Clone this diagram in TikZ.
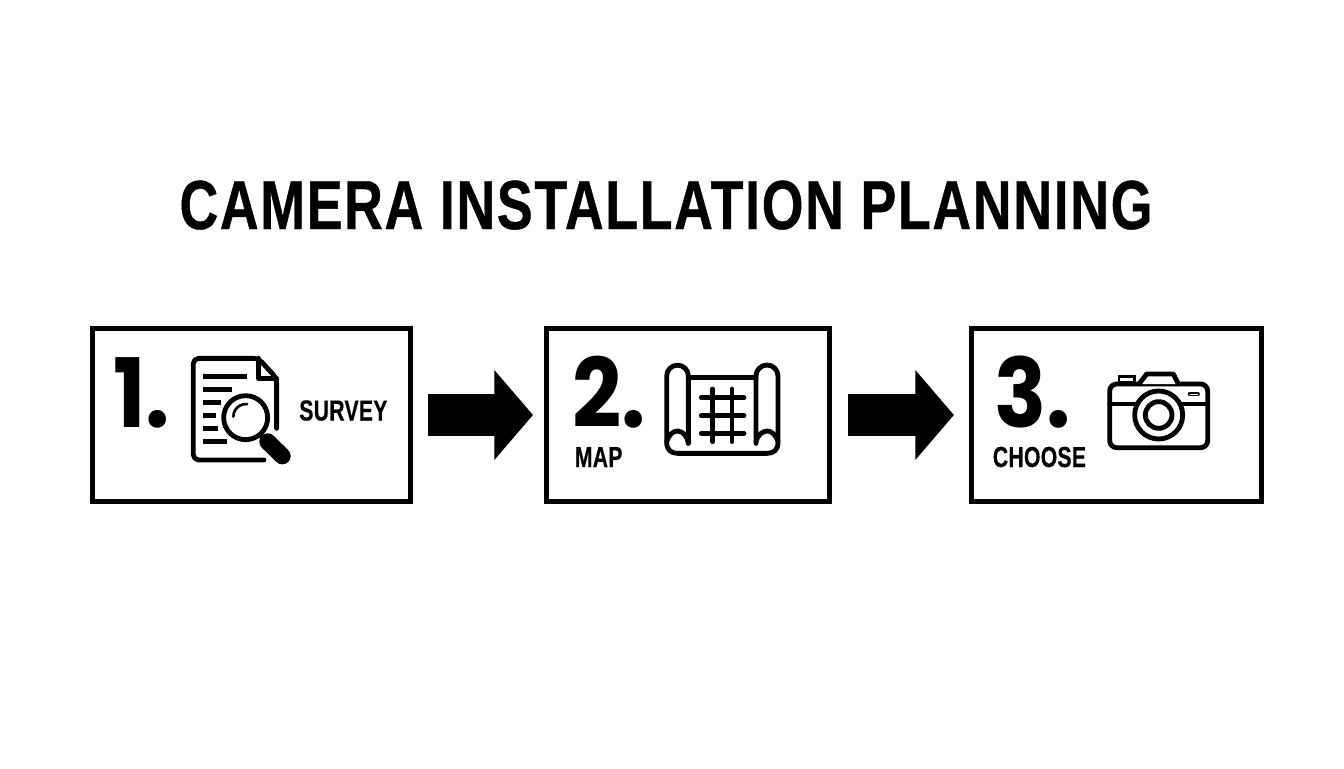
\documentclass[tikz,border=0pt]{standalone}
\usepackage{fontspec}
\usepackage{tikz}
\usetikzlibrary{arrows.meta}
\setmainfont{Liberation Sans}[FakeStretch=0.772,LetterSpace=2.5,BoldFeatures={FakeBold=0.6}]
\newfontfamily\labelfont{Liberation Sans}[FakeStretch=0.73,LetterSpace=1,BoldFeatures={FakeBold=0.4}]
\newfontfamily\numfont{Poppins}[FakeStretch=0.9]
\tikzset{
  framebox/.style={draw,line width=2.85pt,inner sep=0pt,outer sep=0pt,anchor=north west},
  blockarrow/.style={line width=24.4pt,-{Triangle[length=22pt,width=50pt]}},
  steplabel/.style={anchor=base west,inner sep=0pt,font=\fontsize{16.5pt}{18pt}\selectfont\labelfont\bfseries},
  stepnum/.style={anchor=base west,inner sep=0pt,font=\fontsize{54.5pt}{56pt}\selectfont\numfont\bfseries},
  icon/.style={line width=2.75pt,line cap=round,line join=round},
  thin icon/.style={line width=1.5pt,line cap=round},
}
\begin{document}
\begin{tikzpicture}[x=0.02cm,y=-0.02cm]
  \useasboundingbox[fill=white] (0,0) rectangle (1344,768);
  \node[anchor=base,inner sep=0pt,font=\fontsize{39.5pt}{44pt}\selectfont\bfseries] (title) at (666,229) {CAMERA INSTALLATION PLANNING};
  % the three boxes
  \node[framebox,minimum width=318*0.02cm,minimum height=173*0.02cm] (box1) at (92.5,328.5) {};
  \node[framebox,minimum width=283*0.02cm,minimum height=173*0.02cm] (box2) at (546.5,328.5) {};
  \node[framebox,minimum width=290*0.02cm,minimum height=173*0.02cm] (box3) at (971.5,328.5) {};
  \draw[blockarrow,shorten <=10pt,shorten >=7.7pt] (box1.east) -- (box2.west);
  \draw[blockarrow,shorten <=10.5pt,shorten >=10pt] (box2.east) -- (box3.west);
  % numbers and labels
  \node[stepnum] (num1) at (113,427) {1.};
  \node[stepnum] (num2) at (572,427) {2.};
  \node[stepnum] (num3) at (994,427) {3.};
  \node[steplabel] (survey) at (299,420.5) {SURVEY};
  \node[steplabel] (map) at (574.5,467) {MAP};
  \node[steplabel] (choose) at (992.5,467) {CHOOSE};
  % survey icon
  \begin{scope}[shift={(85,320)},x=0.02cm/3,y=-0.02cm/3]
    \draw[icon,rounded corners=3pt] (575,325) -- (575,175) -- (520,115) -- (325,115) -- (325,420) -- (537,420);
    \draw[icon] (520,115) -- (520,175) -- (575,175);
    \foreach \ya/\xb in {170/487,209/442,248/408,287/392,326/400,364/425}
      \draw[line width=2.9pt] (355,\ya) -- (\xb,\ya);
    \draw[icon] (482,293) circle (66);
    \draw[thin icon] (445,290) arc (180:275:38);
    \draw[icon] (525,345) -- (545,362);
    \draw[line width=9.5pt,line cap=round] (548,365) -- (592,408);
  \end{scope}
  % map icon
  \begin{scope}[shift={(540,320)},x=0.02cm/3,y=-0.02cm/3]
    \draw[icon] (445,370) -- (445,168) arc (0:-180:32.5) -- (380,368) .. controls (380,390) and (395,400) .. (412,400) -- (682,400) .. controls (700,400) and (714,390) .. (714,368) -- (714,168) arc (0:-180:33) -- (648,370);
    \draw[icon] (380,365) .. controls (385,345) and (400,333) .. (412,333) .. controls (428,333) and (442,348) .. (445,370);
    \draw[icon] (648,365) .. controls (652,345) and (668,333) .. (682,333) .. controls (695,333) and (708,345) .. (714,365);
    \draw[icon] (445,172) -- (648,172);
    \foreach \xa in {518,576}
      \draw[icon] (\xa,207) -- (\xa,365);
    \foreach \ya in {233,287,340}
      \draw[icon] (484,\ya) -- (612,\ya);
  \end{scope}
  % camera icon
  \begin{scope}[shift={(965,320)},x=0.02cm/3,y=-0.02cm/3]
    \draw[icon,rounded corners=4pt] (434,192) rectangle (728,383);
    \draw[icon,fill=white] (522,192) -- (545,162) -- (625,162) -- (640,192);
    \draw[line width=1.6pt] (462,186) rectangle (508,169);
    \draw[icon] (434,252) -- (515,252);
    \draw[icon] (650,252) -- (728,252);
    \draw[icon] (581,285) circle (72);
    \draw[icon] (581,285) circle (40);
    \draw[line width=2.6pt,line cap=round] (675,222) -- (698,222);
    \draw[white,line width=0.5pt,line cap=round] (675,222) -- (698,222);
  \end{scope}
\end{tikzpicture}
\end{document}
